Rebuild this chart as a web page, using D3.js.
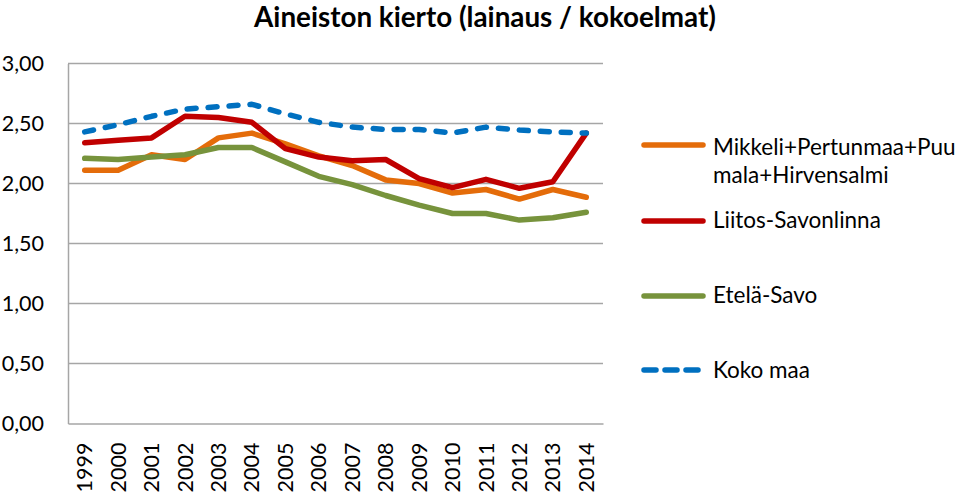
<!DOCTYPE html>
<html><head><meta charset="utf-8">
<script src="https://cdn.jsdelivr.net/npm/d3@7"></script>
<style>body{margin:0;background:#fff}</style>
</head><body>
<svg id="c" width="960" height="492"></svg>
<script>
const years = ["1999","2000","2001","2002","2003","2004","2005","2006","2007","2008","2009","2010","2011","2012","2013","2014"];
const mikkeli = [2.11,2.11,2.24,2.20,2.38,2.42,2.33,2.23,2.15,2.03,2.00,1.92,1.95,1.87,1.95,1.885];
const liitos  = [2.34,2.36,2.38,2.56,2.55,2.51,2.29,2.22,2.19,2.20,2.04,1.965,2.035,1.96,2.015,2.42];
const etela   = [2.21,2.20,2.22,2.24,2.30,2.30,2.18,2.06,1.99,1.90,1.82,1.75,1.75,1.695,1.715,1.76];
const kokomaa = [2.43,2.49,2.56,2.62,2.64,2.66,2.58,2.51,2.47,2.45,2.45,2.42,2.47,2.445,2.43,2.42];
const yTicks = [0,0.5,1,1.5,2,2.5,3];
const seriesNames = ["Mikkeli+Pertunmaa+Puumala+Hirvensalmi","Liitos-Savonlinna","Etelä-Savo","Koko maa"];
const title = "Aineiston kierto (lainaus / kokoelmat)";

const series = [
  {name: seriesNames[0], values: mikkeli, color: "#E46C0A", dash: null, legendY: 145, textY: 155, lines:["Mikkeli+Pertunmaa+Puu","mala+Hirvensalmi"]},
  {name: seriesNames[1], values: liitos, color: "#C00000", dash: null, legendY: 221, textY: 228, lines:["Liitos-Savonlinna"]},
  {name: seriesNames[2], values: etela, color: "#77933C", dash: null, legendY: 296, textY: 303, lines:["Etelä-Savo"]},
  {name: seriesNames[3], values: kokomaa, color: "#0070C0", dash: "9,12", legendY: 370, textY: 378, lines:["Koko maa"]}
];

const svg = d3.select("#c");
const L = 68, R = 603, T = 63.5, B = 423.5;
const x = d3.scaleBand().domain(years).range([L, R]);
const y = d3.scaleLinear().domain([0, 3]).range([B, T]);
const font = "Lato, Carlito, 'Open Sans', sans-serif";

// gridlines
svg.append("g").selectAll("line").data(yTicks.filter(d => d > 0)).join("line")
  .attr("x1", L).attr("x2", R).attr("y1", d => y(d)).attr("y2", d => y(d))
  .attr("stroke", "#A6A6A6").attr("stroke-width", 1.5);

// axes
const yAxis = svg.append("g").attr("transform", `translate(${L},0)`)
  .call(d3.axisLeft(y).tickValues(yTicks).tickSize(0).tickPadding(24)
    .tickFormat(d => d3.format(".2f")(d).replace(".", ",")));
yAxis.select(".domain").attr("stroke", "#A6A6A6").attr("stroke-width", 1.5);
yAxis.selectAll("text").attr("font-family", font).attr("font-size", 21.5).attr("fill", "#000");

const xAxis = svg.append("g").attr("transform", `translate(0,${B})`)
  .call(d3.axisBottom(x).tickSize(0).tickPadding(0));
xAxis.select(".domain").attr("stroke", "#A6A6A6").attr("stroke-width", 1.5);
xAxis.selectAll("text").attr("font-family", font).attr("font-size", 21.5).attr("fill", "#000")
  .attr("transform", "rotate(-90)")
  .attr("text-anchor", "end").attr("dy", "0.35em").attr("x", -19).attr("y", 0);

// lines
const line = d3.line().x((d, i) => x(years[i]) + x.bandwidth() / 2).y(d => y(d));
series.forEach(s => {
  svg.append("path").datum(s.values).attr("d", line)
    .attr("fill", "none").attr("stroke", s.color).attr("stroke-width", 5.5)
    .attr("stroke-linejoin", "round").attr("stroke-linecap", "round")
    .attr("stroke-dasharray", s.dash);
});

// title
svg.append("text").attr("x", 485).attr("y", 27).attr("text-anchor", "middle")
  .attr("font-family", font)
  .attr("font-weight", "bold").attr("font-size", 27.8).text(title);

// legend
series.forEach(s => {
  svg.append("line").attr("x1", 644).attr("x2", 703).attr("y1", s.legendY).attr("y2", s.legendY)
    .attr("stroke", s.color).attr("stroke-width", 5.5).attr("stroke-linecap", "round")
    .attr("stroke-dasharray", s.dash ? "12,9" : null);
  s.lines.forEach((t, i) => {
    svg.append("text").attr("x", 713).attr("y", s.textY + i * 28)
      .attr("font-family", font).attr("font-size", 22.5).attr("fill", "#000").text(t);
  });
});
</script>
</body></html>
